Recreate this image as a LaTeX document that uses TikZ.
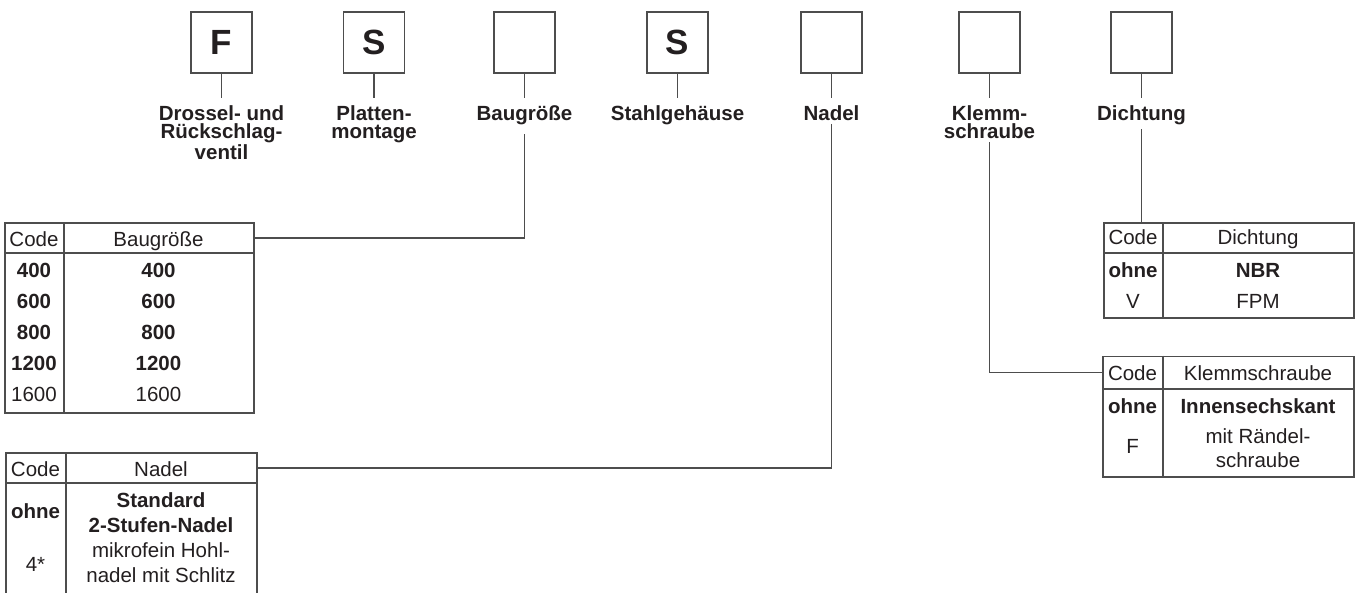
\documentclass[tikz,border=0pt]{standalone}
\usepackage{fontspec}
\setmainfont{Liberation Sans}
\definecolor{ink}{HTML}{231F20}
\definecolor{rule}{HTML}{4D4D4D}
\begin{document}
\begin{tikzpicture}[x=1pt,y=-1pt,
  codebox/.style={draw=rule, line width=1.6pt, minimum width=61pt, minimum height=61pt,
    inner sep=0pt, font=\fontsize{35}{35}\selectfont\bfseries, text=ink},
  lab/.style={anchor=north, align=center, inner sep=0pt,
    font=\fontsize{20.5}{18.3}\selectfont\bfseries, text=ink},
  conn/.style={draw=rule, line width=1.5pt},
  rowbox/.style={draw=rule, line width=1.5pt, inner sep=0pt, anchor=north west},
  cell/.style={anchor=base, inner sep=0pt, font=\fontsize{20.5}{24}\selectfont, text=ink},
  bcell/.style={cell, font=\fontsize{20.5}{24}\selectfont\bfseries},
  mcell/.style={anchor=north, align=center, inner sep=0pt, text=ink},
]
\useasboundingbox (0,0) rectangle (1358,592);

% --- code positions ---
\node[codebox] (bF)  at (221.5,42.5) {F};
\node[codebox] (bP)  at (374,42.5)   {S};
\node[codebox] (bB)  at (524.5,42.5) {};
\node[codebox] (bS)  at (677.5,42.5) {S};
\node[codebox] (bN)  at (831.5,42.5) {};
\node[codebox] (bK)  at (989.5,42.5) {};
\node[codebox] (bD)  at (1141.5,42.5){};

% --- labels ---
\node[lab] (lF) at (221.5,105.5) {Drossel- und\\Rückschlag-\\ventil};
\node[lab] (lP) at (374,105.5)   {Platten-\\montage};
\node[lab] (lB) at (524.5,105.5) {Baugröße};
\node[lab] (lS) at (677.5,105.5) {Stahlgehäuse};
\node[lab] (lN) at (831.5,105.5) {Nadel};
\node[lab] (lK) at (989.5,105.5) {Klemm-\\schraube};
\node[lab] (lD) at (1141.5,105.5){Dichtung};

\foreach \b/\l in {bF/lF, bP/lP, bB/lB, bS/lS, bN/lN, bK/lK, bD/lD}
  \draw[conn, shorten >=8pt] (\b) -- (\l);

% --- table: Baugröße ---
\node[rowbox, minimum width=249pt, minimum height=30pt]  (tbH) at (4,222) {};
\node[rowbox, minimum width=249pt, minimum height=160pt] (tbB) at (4,252) {};
\draw[conn] (64,222) -- (64,412);
\node[cell]  at (34,246)    {Code};
\node[cell]  at (158.5,246) {Baugröße};
\node[bcell] at (34,277)    {400};  \node[bcell] at (158.5,277) {400};
\node[bcell] at (34,308)    {600};  \node[bcell] at (158.5,308) {600};
\node[bcell] at (34,339)    {800};  \node[bcell] at (158.5,339) {800};
\node[bcell] at (34,370)    {1200}; \node[bcell] at (158.5,370) {1200};
\node[cell]  at (34,401)    {1600}; \node[cell]  at (158.5,401) {1600};

% --- table: Nadel ---
\node[rowbox, minimum width=251pt, minimum height=30pt]  (tnH) at (5,452) {};
\node[rowbox, minimum width=251pt, minimum height=130pt] (tnB) at (5,482) {};
\draw[conn] (66,452) -- (66,612);
\node[cell]  at (35.5,476) {Code};
\node[cell]  at (161,476)  {Nadel};
\node[bcell] at (35.5,518.3) {ohne};
\node[mcell, font=\fontsize{20.5}{25}\selectfont\bfseries] at (161,492.2) {Standard\\2-Stufen-Nadel};
\node[cell]  at (35.5,571.7) {4*};
\node[mcell, font=\fontsize{20.5}{25}\selectfont] at (161,542.6) {mikrofein Hohl-\\nadel mit Schlitz};

% --- table: Dichtung ---
\node[rowbox, minimum width=250pt, minimum height=30pt] (tdH) at (1103,222) {};
\node[rowbox, minimum width=250pt, minimum height=65pt] (tdB) at (1103,252) {};
\draw[conn] (1163,222) -- (1163,317);
\node[cell]  at (1133,244)  {Code};
\node[cell]  at (1258,244)  {Dichtung};
\node[bcell] at (1133,277)  {ohne};
\node[bcell] at (1258,277)  {NBR};
\node[cell]  at (1133,308)  {V};
\node[cell]  at (1258,308)  {FPM};

% --- table: Klemmschraube ---
\node[rowbox, minimum width=251pt, minimum height=32.3pt] (tkH) at (1102,355.7) {};
\node[rowbox, minimum width=251pt, minimum height=88pt]   (tkB) at (1102,388) {};
\draw[conn] (1163,355.7) -- (1163,476);
\node[cell]  at (1132.5,380.7) {Code};
\node[cell]  at (1258,380.7)   {Klemmschraube};
\node[bcell] at (1132.5,413.3) {ohne};
\node[bcell] at (1258,413.3)   {Innensechskant};
\node[cell]  at (1132.5,453.3) {F};
\node[mcell, font=\fontsize{20.5}{23.7}\selectfont] at (1258,428.8) {mit Rändel-\\schraube};

% --- connectors to tables ---
\draw[conn, shorten <=9pt] (lB) |- (tbH.east);
\draw[conn, shorten <=3pt] (lN) |- (tnH.east);
\draw[conn, shorten <=3pt] (lK) |- (tkH.west);
\draw[conn, shorten <=4pt] (lD) -- (lD |- tdH.north);
\end{tikzpicture}
\end{document}
